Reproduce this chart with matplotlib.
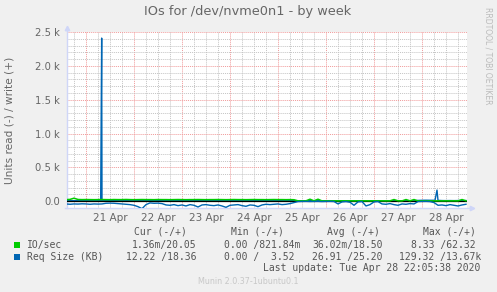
import matplotlib
matplotlib.use('Agg')
import matplotlib.pyplot as plt
import matplotlib.dates as mdates
import matplotlib.ticker as mticker
import matplotlib.transforms as mtransforms
from matplotlib.patches import Rectangle
import pandas as pd
import numpy as np

# ---------------- data ----------------
series_start = '2020-04-20 14:00'
series_step = '2h'

# IO/sec write (+)
io_write = [24, 27, 45, 26, 24, 25, 24, 23, 24, 25,
            24, 23, 25, 24, 24, 26, 24, 23, 24, 25,
            24, 24, 23, 25, 24, 24, 23, 24, 25, 24,
            23, 24, 24, 25, 24, 23, 24, 24, 25, 24,
            23, 24, 25, 24, 24, 23, 24, 25, 24, 24,
            23, 24, 25, 24, 24, 23, 24, 22, 6, 5,
            6, 30, 6, 30, 5, 6, 5, 6, 5, 6,
            5, 6, 5, 6, 5, 6, 5, 6, 5, 6,
            5, 6, 25, 6, 5, 25, 6, 25, 5, 6,
            5, 6, 5, 6, 5, 6, 5, 6, 5, 25, 6]

# Req Size (KB) write (+)
req_write = [9, 10, 8, 9, 11, 9, 8, 10, 9, 9,
             10, 9, 8, 9, 10, 9, 9, 8, 10, 9,
             9, 10, 8, 9, 9, 10, 9, 8, 9, 10,
             9, 9, 8, 10, 9, 9, 10, 8, 9, 9,
             10, 9, 8, 9, 10, 9, 9, 8, 10, 9,
             9, 10, 8, 9, 9, 10, 9, 8, 7, 6,
             7, 8, 6, 7, 7, 6, 8, 7, 6, 7,
             7, 6, 8, 7, 6, 7, 7, 6, 8, 7,
             7, 6, 8, 7, 6, 7, 7, 6, 12, 14,
             15, 14, 14, 12, 10, 9, 10, 9, 10, 9, 10]

# Req Size (KB) read (-), magnitudes
req_read = [40, 45, 40, 42, 38, 40, 45, 40, 42, 40,
            30, 28, 30, 35,
            40, 45, 50, 60,
            80, 110, 50,
            25, 30, 28, 35,
            55, 60, 50, 65, 55, 70, 50, 60, 85, 55, 50, 60, 65, 55, 70,
            90, 60, 55, 50, 65, 75, 55, 60, 80, 55,
            45, 50, 45, 40, 50, 45, 35, 20,
            5, 3, 2, 4, 3, 2, 5, 3, 2, 4,
            40, 10, 5, 15, 60, 10, 5, 70,
            50, 10, 5,
            40, 45, 35, 50, 60, 40, 45, 35, 40,
            5, 3, 2, 5,
            20,
            60, 55, 65, 50, 60, 70, 55, 45]

# short write spikes of Req Size
spike_times = ['2020-04-21 07:20', '2020-04-21 07:50', '2020-04-21 08:20',
               '2020-04-28 06:30', '2020-04-28 07:30', '2020-04-28 08:30']
spike_values = [10, 2410, 10, 12, 165, 12]

x_start = '2020-04-20 14:30'
x_end = '2020-04-28 22:30'
day_label_times = ['2020-04-21 12:00', '2020-04-22 12:00', '2020-04-23 12:00',
                   '2020-04-24 12:00', '2020-04-25 12:00', '2020-04-26 12:00',
                   '2020-04-27 12:00', '2020-04-28 12:00']
day_labels = ['21 Apr', '22 Apr', '23 Apr', '24 Apr', '25 Apr', '26 Apr',
              '27 Apr', '28 Apr']
y_ticks = [0, 500, 1000, 1500, 2000, 2500]
y_tick_labels = ['0.0', '0.5 k', '1.0 k', '1.5 k', '2.0 k', '2.5 k']

legend_names = ['IO/sec', 'Req Size (KB)']
legend_colors = ['#00CC00', '#0066B3']
stat_headers = ['Cur (-/+)', 'Min (-/+)', 'Avg (-/+)', 'Max (-/+)']
stat_read = [['1.36m', '0.00 ', '36.02m', '8.33 '],
             ['12.22 ', '0.00 ', '26.91 ', '129.32 ']]
stat_write = [['20.05', '821.84m', '18.50', '62.32'],
              ['18.36', '  3.52', '25.20', '13.67k']]
last_update = 'Last update: Tue Apr 28 22:05:38 2020'

# ---------------- figure ----------------
W, H = 497, 292
fig = plt.figure(figsize=(W / 100, H / 100), dpi=100, facecolor='#F0F0F0')
ax = fig.add_axes([67 / W, 1 - 208 / H, 400 / W, 176 / H], facecolor='white')

FONT = '#666666'
LEGFONT = '#555555'
MONO = 'DejaVu Sans Mono'

times = pd.date_range(series_start, periods=len(req_read), freq=series_step)

s_w = pd.concat([pd.Series(req_write, index=times),
                 pd.Series(spike_values, index=pd.to_datetime(spike_times))]).sort_index()

ax.axhline(0, color='black', lw=0.9, zorder=2.5)
ax.plot(times, io_write, color=legend_colors[0], lw=1.1, zorder=3)
ax.plot(s_w.index, s_w.values, color=legend_colors[1], lw=1.0, zorder=2.4)
ax.plot(times, -np.array(req_read), color=legend_colors[1], lw=1.0, zorder=4)

ax.set_xlim(pd.Timestamp(x_start), pd.Timestamp(x_end))
ax.set_ylim(-100, 2500)

# grid
ax.xaxis.set_major_locator(mdates.DayLocator())
ax.xaxis.set_minor_locator(mdates.HourLocator(byhour=[6, 12, 18]))
ax.xaxis.set_major_formatter(mticker.NullFormatter())
ax.yaxis.set_major_locator(mticker.FixedLocator(y_ticks))
ax.yaxis.set_major_formatter(mticker.FixedFormatter(y_tick_labels))
ax.yaxis.set_minor_locator(mticker.MultipleLocator(100))
ax.grid(which='minor', color='#C4C4C4', ls=(0, (1, 1)), lw=0.7)
ax.grid(which='major', color='#F09A9A', ls=(0, (1, 1)), lw=0.7)
ax.set_axisbelow(True)
ax.tick_params(which='both', length=0)
ax.tick_params(axis='y', labelsize=7.2, labelcolor=FONT, pad=5)

for sp in ax.spines.values():
    sp.set_visible(False)
AX = '#CFD6F8'
ax.plot([0, 0], [0, 1 + 3 / 176], transform=ax.transAxes, color=AX, lw=1, clip_on=False)
ax.plot([-2 / 400, 1 + 4 / 400], [0, 0], transform=ax.transAxes, color=AX, lw=1, clip_on=False)
ax.plot([0], [1 + 4 / 176], marker='^', ms=3.2, color=AX, transform=ax.transAxes, clip_on=False)
ax.plot([1 + 5 / 400], [0], marker='>', ms=3.2, color=AX, transform=ax.transAxes, clip_on=False)

trans = mtransforms.blended_transform_factory(ax.transData, ax.transAxes)
for t, lab in zip(day_label_times, day_labels):
    ax.text(pd.Timestamp(t), -10 / 176, lab, transform=trans, ha='center', va='center',
            fontsize=7.5, color=FONT)

# titles
fig.text(248 / W, 1 - 12 / H, 'IOs for /dev/nvme0n1 - by week', ha='center', va='center',
         fontsize=9.3, color=FONT)
fig.text(10 / W, 1 - 120 / H, 'Units read (-) / write (+)', rotation=90, ha='center',
         va='center', fontsize=7.6, color=FONT)
fig.text(488 / W, 1 - 56 / H, 'RRDTOOL / TOBI OETIKER', rotation=270, ha='center',
         va='center', fontsize=5.5, color='#BBBBBB')

# legend
def fx(x):
    return x / W

def fy(y):
    return 1 - y / H

cw = 0.6021 * 7 / 72 * 100
header_x = [134, 231, 327, 423]
slash_x = [161, 253, 347, 440]
for hx, htxt in zip(header_x, stat_headers):
    fig.text(fx(hx), fy(232), htxt, family=MONO, fontsize=7, color=LEGFONT, ha='left', va='center')
row_y = [245, 257]
for r in range(2):
    fig.add_artist(Rectangle((fx(14), fy(row_y[r] + 3)), 6 / W, 6 / H,
                             transform=fig.transFigure, color=legend_colors[r], lw=0))
    fig.text(fx(27), fy(row_y[r]), legend_names[r], family=MONO, fontsize=7,
             color=LEGFONT, ha='left', va='center')
    for c in range(4):
        rd = stat_read[r][c]
        txt = rd + '/' + stat_write[r][c]
        fig.text(fx(slash_x[c] - len(rd) * cw), fy(row_y[r]), txt, family=MONO,
                 fontsize=7, color=LEGFONT, ha='left', va='center')
fig.text(fx(480), fy(268), last_update, family=MONO, fontsize=7, color=LEGFONT,
         ha='right', va='center')
fig.text(fx(248), fy(281), 'Munin 2.0.37-1ubuntu0.1', fontsize=5.8, color='#C8C8C8',
         ha='center', va='center')

fig.savefig('out.png', dpi=100, facecolor=fig.get_facecolor())
